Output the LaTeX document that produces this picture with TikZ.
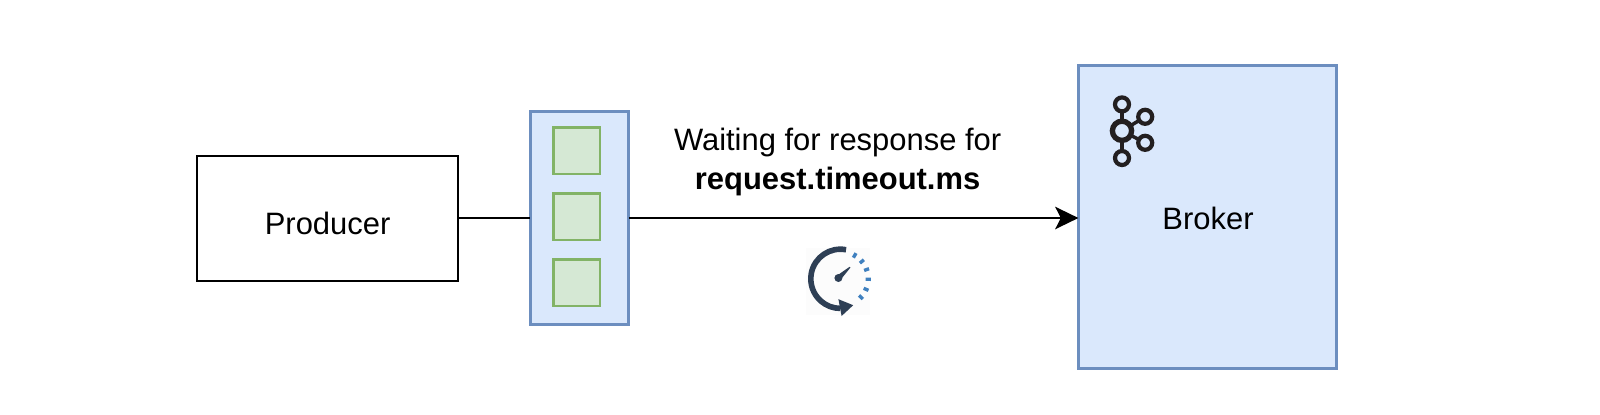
\documentclass[tikz,border=0pt]{standalone}
\usepackage{fontspec}
\setmainfont{Liberation Sans}
\usetikzlibrary{arrows.meta}
\definecolor{blueFill}{HTML}{DAE8FC}
\definecolor{blueLine}{HTML}{6C8EBF}
\definecolor{greenFill}{HTML}{D5E8D4}
\definecolor{greenLine}{HTML}{82B366}
\definecolor{iconDark}{HTML}{2E3F55}
\definecolor{iconBlue}{HTML}{3F80BF}
\definecolor{kafkaDark}{HTML}{231F20}
\tikzset{
  plainbox/.style={draw=black,line width=1.8pt,fill=white},
  bluebox/.style={draw=blueLine,line width=1.9pt,fill=blueFill},
  greenbox/.style={draw=greenLine,line width=2pt,fill=greenFill,minimum size=1.16cm},
  kafkahub/.style={draw=kafkaDark,circle,line width=3.8pt,minimum size=0.48cm},
  kafkaleaf/.style={draw=kafkaDark,circle,line width=3pt,minimum size=0.35cm},
  label/.style={font=\fontsize{22}{27.7}\selectfont,text=black}
}
\begin{document}
\begin{tikzpicture}[inner sep=0pt,outer sep=0pt]
\useasboundingbox (0,0) rectangle (40,10.35);
\fill[white] (0,0) rectangle (40,10.35);
% boxes
\draw (8.19, 4.89) node[plainbox,minimum width=6.53cm,minimum height=3.13cm](producer) {};
\draw (14.49, 4.90) node[bluebox,minimum width=2.46cm,minimum height=5.32cm](batch) {};
\draw (14.42, 6.58) node[greenbox](record1) {};
\draw (14.42, 4.93) node[greenbox](record2) {};
\draw (14.42, 3.28) node[greenbox](record3) {};
\draw (30.19, 4.92) node[bluebox,minimum width=6.46cm,minimum height=7.58cm](broker) {};
% connectors
\coordinate (wire) at (0, 4.90);
\draw[line width=1.5pt] (producer.east |- wire) -- (batch.west |- wire);
\draw[line width=1.5pt,-{Stealth[length=0.58cm,width=0.56cm,inset=0.14cm]}] (batch.east |- wire) -- (broker.west |- wire);
% labels
\draw (8.19, 4.76) node[label](producerText) {Producer};
\draw (30.20, 4.90) node[label](brokerText) {Broker};
\draw (20.94, 6.30) node[label,align=center](waitText) {Waiting for response for\\ \textbf{request.timeout.ms}};
% kafka icon
\draw (28.05, 7.08) node[kafkahub](hub) {};
\draw (28.05, 7.74) node[kafkaleaf](leaf1) {};
\draw (28.05, 6.40) node[kafkaleaf](leaf2) {};
\draw (28.63, 7.43) node[kafkaleaf](leaf3) {};
\draw (28.63, 6.78) node[kafkaleaf](leaf4) {};
\draw[kafkaDark,line width=2.5pt] (hub) -- (leaf1);
\draw[kafkaDark,line width=2.5pt] (hub) -- (leaf2);
\draw[kafkaDark,line width=2.5pt] (hub) -- (leaf3);
\draw[kafkaDark,line width=2.5pt] (hub) -- (leaf4);
% timer icon
\fill[black!1] (20.15, 2.48) rectangle (21.75, 4.15);
\draw[iconDark,line width=4pt] (21.01, 3.38) ++(79:0.74) arc (79:270:0.74);
\fill[iconDark] (21.33, 2.72) -- (20.96, 2.87) -- (21.04, 2.45) -- cycle;
\fill[iconDark] (20.96, 3.40) circle (0.10);
\fill[iconDark] (20.91, 3.45) -- (21.01, 3.35) -- (21.26, 3.66) -- (21.24, 3.68) -- cycle;
\foreach \a in {60,40,20,-1,-23,-43}
  \draw[iconBlue,line width=2.4pt] (21.03, 3.38) ++(\a:0.61) -- ++(\a:0.13);
\end{tikzpicture}
\end{document}
